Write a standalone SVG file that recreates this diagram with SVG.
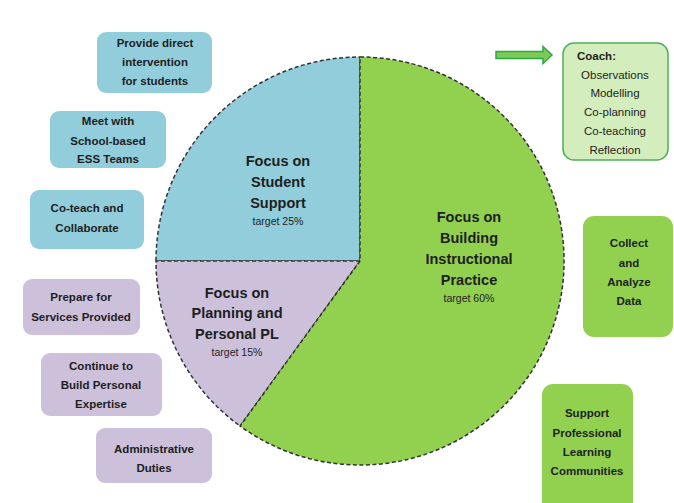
<svg xmlns="http://www.w3.org/2000/svg" width="674" height="503" viewBox="0 0 674 503">
<style>
.slice{stroke:#333333;stroke-width:1.5;stroke-dasharray:4 2.5}
.blue{fill:#92CDDC}
.lav{fill:#CCC0DA}
.grn{fill:#92D050}
.box{stroke:none}
.bt{font-family:"Liberation Sans",Arial,sans-serif;font-weight:bold;font-size:11.5px;fill:#1e1e1e;text-anchor:middle}
.pt{font-family:"Liberation Sans",Arial,sans-serif;font-weight:bold;font-size:14.5px;fill:#1e1e1e;text-anchor:middle}
.tg{font-family:"Liberation Sans",Arial,sans-serif;font-size:10.5px;fill:#1e1e1e;text-anchor:middle}
.ct{font-family:"Liberation Sans",Arial,sans-serif;font-size:11.5px;fill:#1e1e1e;text-anchor:middle}
</style>
<rect width="674" height="503" fill="#ffffff"/>
<g id="pie">
<g id="slice-student">
<path class="slice blue" d="M360,261 L360,57 A204,204 0 0 0 156,261 Z"/>
<text class="pt" x="278" y="166">Focus on</text>
<text class="pt" x="278" y="187">Student</text>
<text class="pt" x="278" y="208">Support</text>
<text class="tg" x="278" y="225">target 25%</text>
</g>
<g id="slice-planning">
<path class="slice lav" d="M360,261 L156,261 A204,204 0 0 0 240.1,426 Z"/>
<text class="pt" x="237" y="298">Focus on</text>
<text class="pt" x="237" y="318">Planning and</text>
<text class="pt" x="237" y="339">Personal PL</text>
<text class="tg" x="237" y="356">target 15%</text>
</g>
<g id="slice-instruction">
<path class="slice grn" d="M360,261 L240.1,426 A204,204 0 1 0 360,57 Z"/>
<text class="pt" x="469" y="222">Focus on</text>
<text class="pt" x="469" y="243">Building</text>
<text class="pt" x="469" y="264">Instructional</text>
<text class="pt" x="469" y="285">Practice</text>
<text class="tg" x="469" y="302">target 60%</text>
</g>
</g>
<g id="b-provide">
<rect class="box blue" x="97" y="32" width="115" height="61" rx="9"/>
<text class="bt" x="155" y="47">Provide direct</text>
<text class="bt" x="155" y="66">intervention</text>
<text class="bt" x="155" y="85">for students</text>
</g>
<g id="b-meet">
<rect class="box blue" x="50" y="111" width="116" height="57" rx="9"/>
<text class="bt" x="108" y="125">Meet with</text>
<text class="bt" x="108" y="145">School-based</text>
<text class="bt" x="108" y="163">ESS Teams</text>
</g>
<g id="b-coteach">
<rect class="box blue" x="30" y="190" width="114" height="59" rx="9"/>
<text class="bt" x="87" y="212">Co-teach and</text>
<text class="bt" x="87" y="232">Collaborate</text>
</g>
<g id="b-prepare">
<rect class="box lav" x="23" y="279" width="117" height="56" rx="9"/>
<text class="bt" x="81" y="301">Prepare for</text>
<text class="bt" x="81" y="321">Services Provided</text>
</g>
<g id="b-continue">
<rect class="box lav" x="41" y="353" width="121" height="63" rx="9"/>
<text class="bt" x="101" y="370">Continue to</text>
<text class="bt" x="101" y="389">Build Personal</text>
<text class="bt" x="101" y="408">Expertise</text>
</g>
<g id="b-admin">
<rect class="box lav" x="96" y="428" width="116" height="55" rx="9"/>
<text class="bt" x="154" y="453">Administrative</text>
<text class="bt" x="154" y="472">Duties</text>
</g>
<g id="b-collect">
<rect class="box grn" x="583" y="216" width="90" height="121" rx="11"/>
<text class="bt" x="629" y="247">Collect</text>
<text class="bt" x="629" y="267">and</text>
<text class="bt" x="629" y="286">Analyze</text>
<text class="bt" x="629" y="305">Data</text>
</g>
<g id="b-support">
<rect class="box grn" x="542" y="384" width="91" height="130" rx="11"/>
<text class="bt" x="587" y="417">Support</text>
<text class="bt" x="587" y="437">Professional</text>
<text class="bt" x="587" y="456">Learning</text>
<text class="bt" x="587" y="475">Communities</text>
</g>
<g id="b-coach">
<rect x="563" y="43" width="105" height="117" rx="11" fill="#D4EDBC" stroke="#4EAE5A" stroke-width="1.5"/>
<text class="bt" x="577" y="60" style="text-anchor:start">Coach:</text>
<text class="ct" x="615" y="79">Observations</text>
<text class="ct" x="615" y="97">Modelling</text>
<text class="ct" x="615" y="116">Co-planning</text>
<text class="ct" x="615" y="135">Co-teaching</text>
<text class="ct" x="615" y="154">Reflection</text>
</g>
<g id="connectors">
<path d="M496,51.5 L543,51.5 L543,46.5 L552,55 L543,63.5 L543,58.5 L496,58.5 Z" fill="#7DCB55" stroke="#2EA84A" stroke-width="1.5" stroke-linejoin="miter"/>
</g>
</svg>
